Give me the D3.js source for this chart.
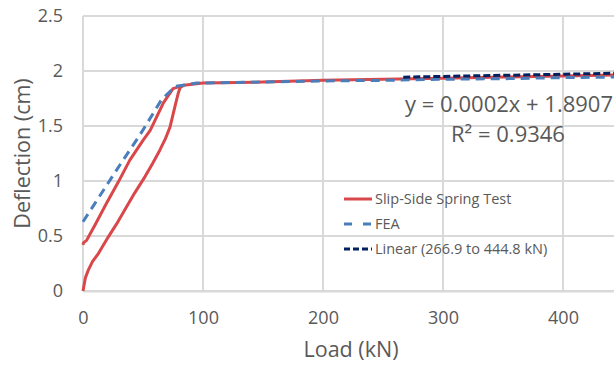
<!DOCTYPE html>
<html>
<head>
<meta charset="utf-8">
<script src="https://cdn.jsdelivr.net/npm/d3@7"></script>
<style>
  body { margin: 0; background: #fff; }
  svg { display: block; font-family: "Open Sans", "Liberation Sans", sans-serif; }
  .tick text { fill: #595959; }
</style>
</head>
<body>
<svg class="chart"></svg>
<script>
let width = 614,
  height = 365;

// slip-side spring test, loading branch then plateau
let loadUp = [0, 0.5, 2, 4.4, 8, 12.8, 21, 28, 35, 43, 51.7, 58, 64, 68.5, 72.5, 76.7, 79.4, 81, 84, 100, 150, 200, 250, 300, 350, 400, 445];
let deflUp = [0, 0.03, 0.12, 0.19, 0.27, 0.34, 0.49, 0.61, 0.74, 0.89, 1.04, 1.16, 1.28, 1.38, 1.49, 1.68, 1.8, 1.85, 1.87, 1.89, 1.9, 1.915, 1.925, 1.935, 1.945, 1.955, 1.965];
// unloading branch
let loadDown = [84, 81, 75, 67, 56, 50, 39, 29.4, 19.7, 10, 6, 3, 0.5, 0];
let deflDown = [1.87, 1.86, 1.84, 1.71, 1.46, 1.37, 1.19, 0.99, 0.8, 0.6, 0.52, 0.46, 0.44, 0.42];

let feaLoad = [0, 31, 47.5, 65.5, 76.7, 94.7, 150, 200, 250, 300, 350, 400, 445];
let feaDefl = [0.63, 1.15, 1.42, 1.74, 1.86, 1.89, 1.9, 1.91, 1.915, 1.925, 1.93, 1.94, 1.945];

// linear trendline fit over 266.9 to 444.8 kN
let trendRange = [266.9, 444.8];
let slope = 0.0002,
  intercept = 1.8907;

let xTicks = [0, 100, 200, 300, 400];
let xGrid = [0, 100, 200, 300, 400, 500];
let yTicks = [0, 0.5, 1, 1.5, 2, 2.5];

let margin = { left: 83, top: 16, bottom: 74 };

let x = d3.scaleLinear().domain([0, 500]).range([margin.left, margin.left + 600]);
let y = d3.scaleLinear().domain([0, 2.5]).range([height - margin.bottom, margin.top]);

let svg = d3.select(".chart").attr("width", width).attr("height", height);

// gridlines
svg.append("g")
  .selectAll("line")
  .data(yTicks)
  .enter()
  .append("line")
  .attr("x1", margin.left)
  .attr("x2", width)
  .attr("y1", (d) => y(d))
  .attr("y2", (d) => y(d))
  .attr("stroke", "#d9d9d9")
  .attr("stroke-width", 2);

svg.append("g")
  .selectAll("line")
  .data(xGrid)
  .enter()
  .append("line")
  .attr("x1", (d) => x(d))
  .attr("x2", (d) => x(d))
  .attr("y1", y(0))
  .attr("y2", y(2.5))
  .attr("stroke", "#d9d9d9")
  .attr("stroke-width", 2);

// axes (labels only)
let xAxis = svg.append("g")
  .attr("transform", `translate(0,${y(0)})`)
  .call(d3.axisBottom(x).tickValues(xTicks).tickSize(0).tickPadding(20).tickFormat(d3.format("d")));
xAxis.select(".domain").attr("stroke", "#d9d9d9").attr("stroke-width", 2);
xAxis.selectAll("text").attr("font-size", 18).attr("font-family", "Open Sans");

let yAxis = svg.append("g")
  .attr("transform", `translate(${margin.left},0)`)
  .call(d3.axisLeft(y).tickValues(yTicks).tickSize(0).tickPadding(20).tickFormat((d) => d));
yAxis.select(".domain").remove();
yAxis.selectAll("text").attr("font-size", 18).attr("font-family", "Open Sans");

// axis titles
svg.append("text")
  .attr("x", 351)
  .attr("y", 357)
  .attr("text-anchor", "middle")
  .attr("font-size", 21.5)
  .attr("fill", "#595959")
  .text("Load (kN)");

svg.append("text")
  .attr("transform", `translate(30,${y(1.25)}) rotate(-90)`)
  .attr("text-anchor", "middle")
  .attr("font-size", 21.5)
  .attr("fill", "#595959")
  .text("Deflection (cm)");

let line = d3.line().x((d) => x(d[0])).y((d) => y(d[1]));

let red = "#d9474a";
[[loadUp, deflUp], [loadDown, deflDown]].forEach(function (s) {
  svg.append("path")
    .datum(s[0].map((d, i) => [d, s[1][i]]))
    .attr("fill", "none")
    .attr("stroke", red)
    .attr("stroke-width", 3)
    .attr("stroke-linejoin", "round")
    .attr("d", line);
});

svg.append("path")
  .datum(feaLoad.map((d, i) => [d, feaDefl[i]]))
  .attr("fill", "none")
  .attr("stroke", "#4a7ebb")
  .attr("stroke-width", 3)
  .attr("stroke-dasharray", "9,6")
  .attr("d", line);

svg.append("path")
  .datum(trendRange.map((d) => [d, slope * d + intercept]))
  .attr("fill", "none")
  .attr("stroke", "#002060")
  .attr("stroke-width", 3)
  .attr("stroke-dasharray", "7,3")
  .attr("d", line);

// trendline equation
svg.append("text")
  .attr("x", 613)
  .attr("y", 112)
  .attr("text-anchor", "end")
  .attr("font-size", 22)
  .attr("fill", "#595959")
  .text("y = 0.0002x + 1.8907");

svg.append("text")
  .attr("x", 508)
  .attr("y", 142)
  .attr("text-anchor", "middle")
  .attr("font-size", 22)
  .attr("fill", "#595959")
  .text("R² = 0.9346");

// legend
let legend = [
  { name: "Slip-Side Spring Test", color: red, dash: null },
  { name: "FEA", color: "#4a7ebb", dash: "8,11" },
  { name: "Linear (266.9 to 444.8 kN)", color: "#002060", dash: "6,3" },
];

let lg = svg.append("g").attr("transform", "translate(344,199)");
lg.selectAll("line")
  .data(legend)
  .enter()
  .append("line")
  .attr("x1", 0)
  .attr("x2", 28)
  .attr("y1", (d, i) => i * 25)
  .attr("y2", (d, i) => i * 25)
  .attr("stroke", (d) => d.color)
  .attr("stroke-width", 3)
  .attr("stroke-dasharray", (d) => d.dash);
lg.selectAll("text")
  .data(legend)
  .enter()
  .append("text")
  .attr("x", 31)
  .attr("y", (d, i) => i * 25)
  .attr("dy", "0.35em")
  .attr("font-size", 14.5)
  .attr("fill", "#595959")
  .text((d) => d.name);
</script>
</body>
</html>
